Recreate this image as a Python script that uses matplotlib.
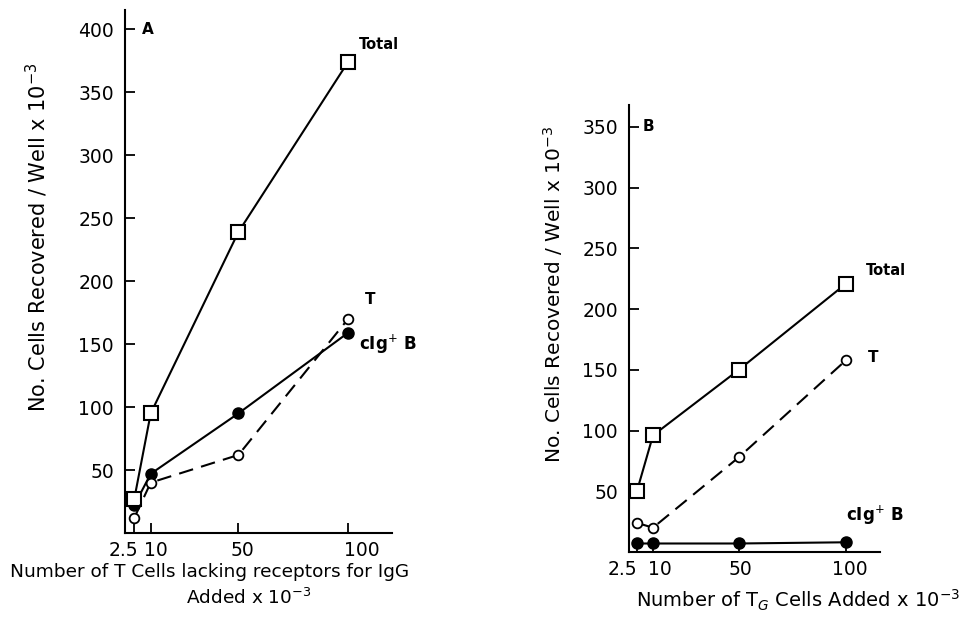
import matplotlib
matplotlib.use("Agg")
import matplotlib.pyplot as plt
from matplotlib.transforms import ScaledTranslation

# ---- Data ----
x_vals = [2.5, 10, 50, 100]
xtick_labels = ["2.5", "10", "50", "100"]

# Panel A
a_total = [27, 95, 239, 374]
a_T = [12, 40, 62, 170]
a_cigB = [22, 47, 95, 159]
a_yticks = [50, 100, 150, 200, 250, 300, 350, 400]

# Panel B
b_total = [50, 96, 150, 221]
b_T = [24, 20, 78, 158]
b_cigB = [7, 7, 7, 8]
b_yticks = [50, 100, 150, 200, 250, 300, 350]

plt.rcParams['font.family'] = ['DejaVu Sans']
fig = plt.figure(figsize=(9.62, 6.18), dpi=100)

axA = fig.add_axes([0.130, 0.1375, 0.2775, 0.846])
axB = fig.add_axes([0.6538, 0.1068, 0.261, 0.7233])

lw = 1.5
def style(ax, yticks, xlim, ylim, label_shift_px):
    for s in ['top', 'right']:
        ax.spines[s].set_visible(False)
    for s in ['left', 'bottom']:
        ax.spines[s].set_linewidth(1.5)
    ax.set_xlim(*xlim)
    ax.set_ylim(*ylim)
    ax.set_yticks(yticks)
    ax.set_xticks(x_vals)
    ax.set_xticklabels(xtick_labels)
    ax.tick_params(direction='in', length=7, width=1.3, labelsize=13.5)
    ax.tick_params(axis='y', pad=8)
    ax.tick_params(axis='x', pad=6)
    for lab, dx in zip(ax.get_xticklabels(), label_shift_px):
        lab.set_transform(lab.get_transform() + ScaledTranslation(dx / 100, 0, fig.dpi_scale_trans))

def plot_series(ax, total, T, cig):
    ax.plot(x_vals, total, '-', color='black', lw=lw, marker='s', ms=9.5,
            mfc='white', mec='black', mew=1.5, zorder=3)
    ax.plot(x_vals, cig, '-', color='black', lw=lw, marker='o', ms=8,
            mfc='black', mec='black', zorder=2)
    ax.plot(x_vals, T, color='black', lw=lw, linestyle=(0, (7, 4)), marker='o', ms=7,
            mfc='white', mec='black', mew=1.3, zorder=4)

# Panel A
style(axA, a_yticks, (-1.7, 120), (0, 415), [-11, 5, 4, 14])
plot_series(axA, a_total, a_T, a_cigB)
axA.text(6, 400, 'A', fontsize=11, fontweight='bold', va='center', ha='left')
axA.text(105, 388, 'Total', fontsize=10.5, fontweight='bold', va='center', ha='left')
axA.text(107.5, 185, 'T', fontsize=11, fontweight='bold', va='center', ha='left')
axA.text(105, 150, 'cIg$^{+}$ B', fontsize=12, fontweight='bold', va='center', ha='left')
axA.set_ylabel('No. Cells Recovered / Well x 10$^{-3}$', fontsize=15)
axA.yaxis.set_label_coords(-0.281, 0.566)
axA.set_xlabel('Number of T Cells lacking receptors for IgG', fontsize=13.3)
axA.xaxis.set_label_coords(0.318, -0.058)
axA.text(0.462, -0.125, 'Added x 10$^{-3}$', transform=axA.transAxes,
         fontsize=13.3, ha='center', va='center')

# Panel B
style(axB, b_yticks, (-1.2, 115.8), (0, 368), [-14, 7, 2, 4])
plot_series(axB, b_total, b_T, b_cigB)
axB.text(5, 350, 'B', fontsize=11, fontweight='bold', va='center', ha='left')
axB.text(109, 232, 'Total', fontsize=10.5, fontweight='bold', va='center', ha='left')
axB.text(110, 160, 'T', fontsize=11, fontweight='bold', va='center', ha='left')
axB.text(100, 30, 'cIg$^{+}$ B', fontsize=12, fontweight='bold', va='center', ha='left')
axB.set_ylabel('No. Cells Recovered / Well x 10$^{-3}$', fontsize=14.5)
axB.yaxis.set_label_coords(-0.255, 0.577)
axB.set_xlabel('Number of T$_{G}$ Cells Added x 10$^{-3}$', fontsize=14)
axB.xaxis.set_label_coords(0.673, -0.08)

fig.savefig('out.png', dpi=100)
